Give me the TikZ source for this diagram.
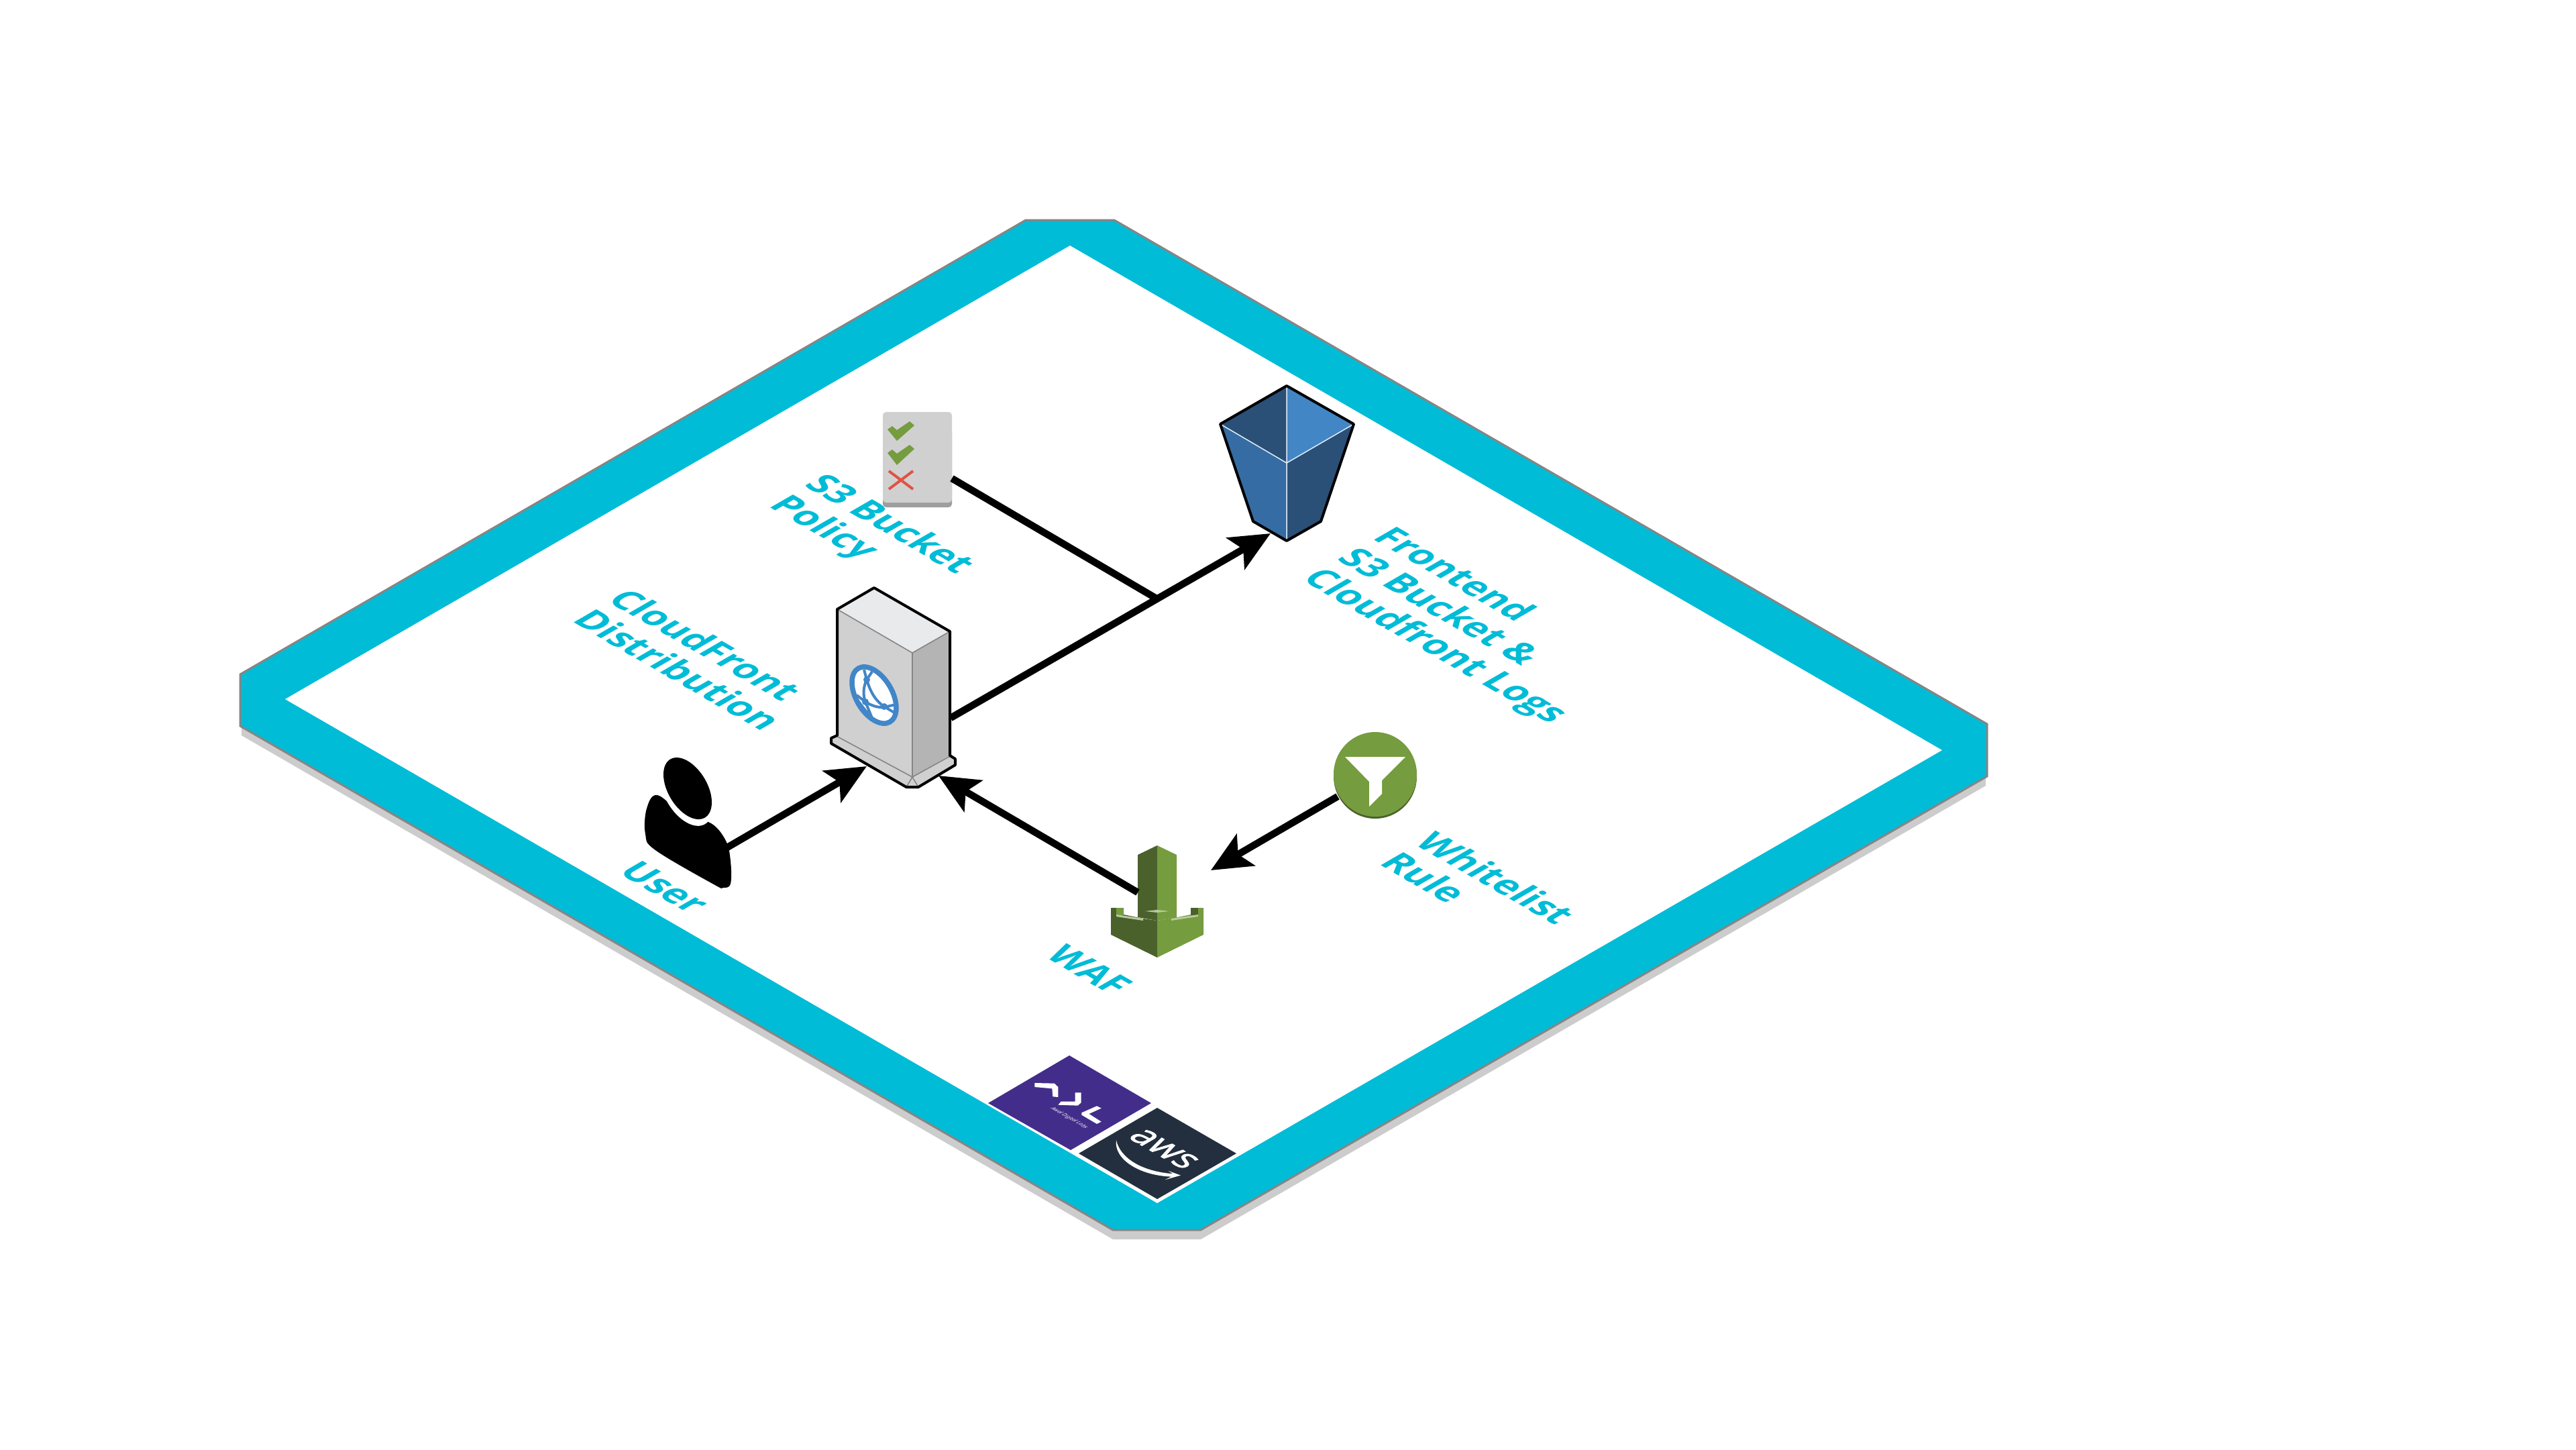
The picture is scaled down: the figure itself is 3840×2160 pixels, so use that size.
\documentclass[tikz,border=0pt]{standalone}
\usepackage{fontspec}
\setmainfont{Open Sans}
\usetikzlibrary{arrows.meta}
\definecolor{cyanband}{HTML}{00BCD7}
\definecolor{rimgrey}{HTML}{858585}
\definecolor{shadowgrey}{HTML}{CCCCCC}
\definecolor{bucketdark}{HTML}{2A5078}
\definecolor{bucketmid}{HTML}{356CA4}
\definecolor{bucketlight}{HTML}{4286C5}
\definecolor{srvtop}{HTML}{E9EAEC}
\definecolor{srvleft}{HTML}{D0D0D0}
\definecolor{srvright}{HTML}{B4B4B5}
\definecolor{globeblue}{HTML}{4286C8}
\definecolor{greendark}{HTML}{4B612C}
\definecolor{greenmid}{HTML}{759C3E}
\definecolor{greenlight}{HTML}{B7CA9D}
\definecolor{crossred}{HTML}{E05243}
\definecolor{logopurple}{HTML}{432D8A}
\definecolor{logodark}{HTML}{232F3E}
\tikzset{
  x=1pt,y=-1pt,
  floortext/.style={cm={.866,-.5,.866,.5,(0,0)},text=cyanband,font=\fontsize{54.5}{61}\selectfont\bfseries,align=left,inner sep=0pt,anchor=west},
  flow/.style={line width=10.5pt,draw=black},
  flowtip/.style={flow,-{Stealth[length=60pt,width=54pt,inset=13pt]}},
  outlined/.style={draw=black,line width=4pt,line join=round},
}
\begin{document}
\begin{tikzpicture}
\useasboundingbox (0,0) rectangle (3840,2160);
\fill[white] (0,0) rectangle (3840,2160);
% platform
\fill[shadowgrey] (360,1018) -- (1529,342) -- (1661,342) -- (2960,1093) -- (2960,1171) -- (1790,1847) -- (1659,1847) -- (360,1096) -- cycle;
\fill[cyanband,draw=rimgrey,line width=3pt] (1529,328) -- (1661,328) -- (2962,1079) -- (2962,1157) -- (1790,1833) -- (1659,1833) -- (358,1082) -- (358,1005) -- cycle;
\fill[white] (1595,366) -- (2895,1118) -- (1725,1793) -- (425,1042) -- cycle;
% logos
\fill[logopurple] (1594,1573) -- (1716,1644) -- (1596,1714) -- (1473,1644) -- cycle;
\fill[logodark] (1725,1651) -- (1843,1719) -- (1725,1787) -- (1608,1719) -- cycle;
\begin{scope}[shift={(1440,1540)},x=.3333pt,y=-.3333pt]
  \fill[white] (307,222) -- (395,224) -- (412,240) -- (412,285) -- (388,283) -- (385,247) -- (307,240) -- cycle;
  \fill[white] (488,265) -- (515,265) -- (515,310) -- (500,323) -- (412,320) -- (425,305) -- (488,305) -- cycle;
  \fill[white] (517,355) -- (585,325) -- (605,335) -- (550,360) -- (605,395) -- (585,405) -- (517,365) -- cycle;
  \fill[white] (672,478) .. controls (690,560) and (790,618) .. (925,628) -- (905,615) -- (960,635) -- (890,655) -- (918,641) .. controls (770,635) and (660,560) .. (672,478) -- cycle;
\end{scope}
\node[cm={.866,-.5,.866,.5,(0,0)},text=white,font=\fontsize{8}{9}\selectfont\itshape,inner sep=0pt] (adltext) at (1594,1666) {Awal Digital Labs};
\node[cm={.866,-.5,.866,.5,(0,0)},text=white,font=\fontsize{54}{54}\selectfont\addfontfeature{FakeBold=1.5},inner sep=0pt] (awstext) at (1735,1712) {aws};
% bucket
\fill[bucketdark] (1918,575) -- (1819,632) -- (1918,690) -- cycle;
\fill[bucketlight] (1918,575) -- (2018,632) -- (1918,690) -- cycle;
\fill[bucketmid] (1819,632) -- (1918,690) -- (1918,806) -- (1868,777) -- cycle;
\fill[bucketdark] (2018,632) -- (1918,690) -- (1918,806) -- (1969,777) -- cycle;
\draw[white!85!bucketlight,line width=1.5pt] (1819,632) -- (1918,690) -- (2018,632) (1918,575) -- (1918,806);
\draw[outlined] (1918,575) -- (2018,632) -- (1969,777) -- (1918,806) -- (1868,777) -- (1819,632) -- cycle;
% policy
\fill[black!38,rounded corners=5pt] (1316,640) rectangle (1419,756);
\fill[srvleft,rounded corners=5pt] (1316,614) rectangle (1419,749);
\fill[greenmid] (1323,640) -- (1330,635) -- (1337,641) -- (1356,628) -- (1363,634) -- (1337,657) -- cycle;
\fill[greenmid] (1323,675) -- (1330,670) -- (1337,676) -- (1356,663) -- (1363,669) -- (1337,693) -- cycle;
\draw[crossred,line width=4pt] (1325,702) -- (1361,729) (1361,702) -- (1325,729);
% server
\fill[srvtop] (1303,876) -- (1416,941) -- (1360,973) -- (1248,908) -- cycle;
\fill[srvleft] (1248,908) -- (1360,973) -- (1360,1173) -- (1351,1173) -- (1239,1108) -- (1239,1100) -- (1248,1096) -- cycle;
\fill[srvright] (1416,941) -- (1360,973) -- (1360,1158) -- (1416,1126) -- cycle;
\fill[srvleft] (1416,1126) -- (1424,1131) -- (1424,1140) -- (1369,1173) -- (1360,1173) -- (1360,1158) -- cycle;
\draw[rimgrey,line width=1.6pt] (1248,908) -- (1360,973) -- (1416,941) (1360,973) -- (1360,1158) (1245,1096) -- (1360,1158) -- (1418,1126) (1351,1173) -- (1360,1158) -- (1369,1173);
\draw[outlined] (1303,876) -- (1416,941) -- (1416,1126) -- (1424,1131) -- (1424,1140) -- (1369,1173) -- (1351,1173) -- (1239,1108) -- (1239,1100) -- (1248,1096) -- (1248,908) -- cycle;
\begin{scope}[yshift=-3pt]
\begin{scope}[shift={(1303,1033)},cm={1,-.5774,0,1.139,(0,0)}]
  \fill[white] (0,0) circle[radius=33pt];
\end{scope}
\draw[globeblue,line width=4pt] (1288,995) -- (1292,1010) .. controls (1287,1020) and (1286,1032) .. (1290,1043) -- (1302,1072)
  (1300,998) -- (1292,1010) .. controls (1298,1030) and (1306,1042) .. (1318,1050) -- (1333,1059)
  (1277,1033) -- (1290,1043) .. controls (1298,1048) and (1308,1052) .. (1318,1051) -- (1335,1047)
  (1278,1040) -- (1297,1065);
\fill[globeblue] (1292,1010) circle[radius=5pt] (1290,1043) circle[radius=5pt] (1318,1050) circle[radius=5pt];
\begin{scope}[shift={(1303,1033)},cm={1,-.5774,0,1.139,(0,0)}]
  \draw[globeblue,line width=7.5pt] (0,0) circle[radius=33pt];
\end{scope}
\end{scope}
% user
\fill[black] plot[smooth cycle,tension=.6] coordinates {(980,1185) (964,1205) (962,1243) (977,1267) (1064,1318) (1078,1323) (1089,1317) (1089,1283) (1082,1253) (1060,1227) (1020,1215)};
\begin{scope}[shift={(1023,1181)},cm={1,-.5774,0,1.139,(0,0)}]
  \fill[white] (0,0) circle[radius=39pt];
\end{scope}
\begin{scope}[shift={(1025,1175)},cm={1,-.5774,0,1.139,(0,0)}]
  \fill[black] (0,0) circle[radius=36pt];
\end{scope}
% waf
\fill[greendark] (1725,1260) -- (1696,1274) -- (1696,1367) -- (1725,1372) -- cycle;
\fill[greenmid] (1725,1260) -- (1754,1274) -- (1754,1368) -- (1725,1372) -- cycle;
\fill[greendark] (1656,1353) -- (1656,1393) -- (1725,1427) -- (1725,1372) -- (1704,1369) -- (1675,1363) -- (1675,1353) -- cycle;
\fill[greenmid] (1794,1353) -- (1794,1393) -- (1725,1427) -- (1725,1372) -- (1746,1369) -- (1775,1363) -- (1775,1353) -- cycle;
\fill[greenmid] (1664,1353) rectangle (1675,1364);
\fill[greendark] (1775,1353) rectangle (1786,1364);
\fill[greenlight] (1664,1363) -- (1704,1369) -- (1704,1372) -- (1664,1366) -- cycle;
\fill[greenlight] (1786,1363) -- (1746,1369) -- (1746,1372) -- (1786,1366) -- cycle;
\fill[greenlight] (1707,1358) -- (1725,1356) -- (1743,1358) -- (1725,1360) -- cycle;
% filter
\fill[greendark] (2050,1157) ellipse[x radius=62pt,y radius=63pt];
\fill[greenmid] (2050,1154) ellipse[x radius=62pt,y radius=63pt];
\fill[white] (2005,1128) -- (2095,1128) -- (2060,1163) -- (2060,1183) -- (2041,1202) -- (2041,1165) -- cycle;
% anchors of the connectors
\coordinate (userOut) at (1084,1263);
\coordinate (serverLeftIn) at (1292,1142);
\coordinate (serverRightIn) at (1399,1156);
\coordinate (serverOut) at (1417,1070);
\coordinate (bucketIn) at (1894,795);
\coordinate (policyOut) at (1419,713);
\coordinate (junction) at (1724,892);
\coordinate (wafOut) at (1696,1330);
\coordinate (wafIn) at (1805,1297);
\coordinate (filterOut) at (1994,1187);
% connectors
\draw[flowtip] (userOut) -- (serverLeftIn);
\draw[flowtip] (wafOut) -- (serverRightIn);
\draw[flowtip] (filterOut) -- (wafIn);
\draw[flowtip] (serverOut) -- (bucketIn);
\draw[flow] (policyOut) -- (junction);
% labels
\node[floortext] (lblPolicy) at (1183,732) {S3 Bucket\\Policy};
\node[floortext] (lblCF) at (895,900) {CloudFront\\Distribution};
\node[floortext] (lblFront) at (2004,826) {Frontend\\S3 Bucket \&\\Cloudfront Logs};
\node[floortext] (lblWhite) at (2098,1262) {Whitelist\\Rule};
\node[floortext] (lblWAF) at (1573,1416) {WAF};
\node[floortext] (lblUser) at (937,1291) {User};
\end{tikzpicture}
\end{document}
